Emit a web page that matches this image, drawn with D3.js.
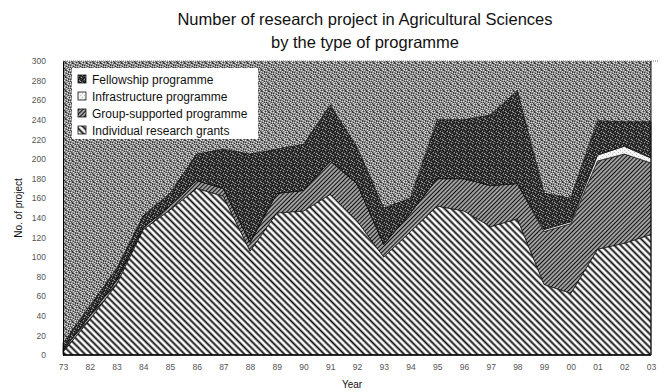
<!DOCTYPE html>
<html>
<head>
<meta charset="utf-8">
<script src="https://cdn.jsdelivr.net/npm/d3@7/dist/d3.min.js"></script>
<style>
  html, body { margin: 0; padding: 0; background: #fff; }
  svg { display: block; }
</style>
</head>
<body>
<svg id="chart" width="667" height="392"></svg>
<script>
// Year labels along the x axis
const years = ["73","82","83","84","85","86","87","88","89","90","91","92","93","94","95","96","97","98","99","00","01","02","03"];

// Number of projects per programme type
const individual     = [3, 36, 72, 128, 148, 170, 162, 106, 145, 147, 164, 137, 100, 126, 152, 147, 131, 139, 72, 63, 108, 114, 123];
const groupSupported = [2, 4, 4, 2, 4, 8, 8, 9, 20, 21, 34, 38, 13, 19, 28, 33, 42, 36, 54, 71, 90, 91, 73];
const infrastructure = [0, 0, 0, 0, 0, 0, 0, 0, 0, 0, 0, 0, 0, 0, 0, 0, 0, 0, 2, 2, 6, 8, 5];
const fellowship     = [7, 10, 12, 12, 13, 27, 40, 90, 45, 47, 57, 37, 37, 15, 60, 60, 72, 95, 37, 24, 35, 25, 37];

const yTicks = d3.range(0, 301, 20);

const seriesKeys = ["individual", "group", "infrastructure", "fellowship"];
const legendLabels = ["Fellowship programme", "Infrastructure programme", "Group-supported programme", "Individual research grants"];
const legendKeys = ["fellowship", "infrastructure", "group", "individual"];

const rows = years.map((y, i) => ({
  year: y,
  individual: individual[i],
  group: groupSupported[i],
  infrastructure: infrastructure[i],
  fellowship: fellowship[i]
}));

const svg = d3.select("#chart");
const margin = { left: 63, right: 16, top: 61, bottom: 37 };
const W = 667, H = 392;

const x = d3.scalePoint().domain(years).range([margin.left, W - margin.right]);
const y = d3.scaleLinear().domain([0, 300]).range([H - margin.bottom, margin.top]);

const defs = svg.append("defs");

// Speckled half-tone fills built from small pixel maps
function pixelPattern(id, base, map, colours) {
  const n = map.length;
  const p = defs.append("pattern").attr("id", id)
    .attr("patternUnits", "userSpaceOnUse").attr("width", n).attr("height", n);
  p.append("rect").attr("width", n).attr("height", n).attr("fill", base);
  map.forEach((row, r) => {
    row.split("").forEach((ch, c) => {
      if (colours[ch]) {
        p.append("rect").attr("x", c).attr("y", r).attr("width", 1).attr("height", 1)
          .attr("fill", colours[ch]).attr("shape-rendering", "crispEdges");
      }
    });
  });
}

pixelPattern("bgSpeckle", "#8c8c8c", [
  "w.dd.w.",
  "..w..d.",
  "d...wd.",
  ".w.d..w",
  "d..w.d.",
  "wd...w.",
  "..d.w.d"
], { w: "#dcdcdc", d: "#3a3a3a" });

pixelPattern("fellowSpeckle", "#3e3e3e", [
  "d.w..d.",
  "..d.w.d",
  "w...d..",
  ".d.w..d",
  "..d..d.",
  "d...d.w",
  ".w.d..."
], { w: "#a0a0a0", d: "#0c0c0c" });

pixelPattern("infraSpeckle", "#f4f4f4", [
  "..d.",
  "....",
  "d...",
  "...."
], { d: "#bbbbbb" });

// Diagonal hatching
function hatch(id, period, angle, width, bg, fg) {
  const p = defs.append("pattern").attr("id", id)
    .attr("patternUnits", "userSpaceOnUse")
    .attr("width", period).attr("height", period)
    .attr("patternTransform", `rotate(${angle})`);
  p.append("rect").attr("width", period).attr("height", period).attr("fill", bg);
  p.append("line").attr("x1", period / 2).attr("y1", 0).attr("x2", period / 2).attr("y2", period)
    .attr("stroke", fg).attr("stroke-width", width);
}
hatch("indivHatch", 4.7, -45, 1.9, "#ffffff", "#111");
hatch("groupHatch", 3.0, 45, 1.8, "#ffffff", "#111");

const fills = {
  individual: "url(#indivHatch)",
  group: "url(#groupHatch)",
  infrastructure: "url(#infraSpeckle)",
  fellowship: "url(#fellowSpeckle)"
};

// Plot background
svg.append("rect")
  .attr("x", margin.left).attr("y", y(300))
  .attr("width", x.range()[1] - margin.left).attr("height", y(0) - y(300))
  .attr("fill", "url(#bgSpeckle)");

// Stacked areas
const stacked = d3.stack().keys(seriesKeys)(rows);
const area = d3.area()
  .x(d => x(d.data.year))
  .y0(d => y(d[0]))
  .y1(d => y(d[1]));

svg.append("g").selectAll("path")
  .data(stacked)
  .join("path")
  .attr("d", area)
  .attr("fill", d => fills[d.key])
  .attr("stroke", "#111")
  .attr("stroke-width", 0.7);

// Top dotted gridline and right border
svg.append("line")
  .attr("x1", margin.left).attr("x2", W - 8)
  .attr("y1", y(300)).attr("y2", y(300))
  .attr("stroke", "#777").attr("stroke-width", 1).attr("stroke-dasharray", "1,1");
svg.append("line")
  .attr("x1", x.range()[1]).attr("x2", x.range()[1])
  .attr("y1", y(300)).attr("y2", y(0))
  .attr("stroke", "#111").attr("stroke-width", 1);

// Axes
const tickFont = "Liberation Sans, Arial, sans-serif";
const xAxis = svg.append("g")
  .attr("transform", `translate(0,${y(0)})`)
  .call(d3.axisBottom(x).tickSize(0).tickPadding(9));
xAxis.select(".domain").attr("stroke", "#000").attr("stroke-width", 1.5)
  .attr("d", `M${margin.left},0H${x.range()[1]}`);
xAxis.selectAll("text").attr("font-family", tickFont).attr("font-size", 8.5).attr("fill", "#555");

const yAxis = svg.append("g")
  .attr("transform", `translate(${margin.left},0)`)
  .call(d3.axisLeft(y).tickValues(yTicks).tickSize(0).tickPadding(17));
yAxis.select(".domain").attr("stroke", "#000").attr("stroke-width", 1);
yAxis.selectAll("text").attr("font-family", tickFont).attr("font-size", 8.5).attr("fill", "#555");

// Titles
const titleFont = "Liberation Sans, Arial, sans-serif";
svg.append("text").attr("x", 365).attr("y", 25).attr("text-anchor", "middle")
  .attr("font-family", titleFont).attr("font-size", 16.5).attr("fill", "#111")
  .text("Number of research project in Agricultural Sciences");
svg.append("text").attr("x", 365).attr("y", 48).attr("text-anchor", "middle")
  .attr("font-family", titleFont).attr("font-size", 16.5).attr("fill", "#111")
  .text("by the type of programme");

svg.append("text")
  .attr("transform", `translate(22,${(y(0) + y(300)) / 2}) rotate(-90)`)
  .attr("text-anchor", "middle")
  .attr("font-family", titleFont).attr("font-size", 10).attr("fill", "#111")
  .text("No. of project");
svg.append("text").attr("x", 352).attr("y", 388).attr("text-anchor", "middle")
  .attr("font-family", titleFont).attr("font-size", 10).attr("fill", "#111")
  .text("Year");

// Legend
const lg = svg.append("g").attr("transform", "translate(72,68)");
lg.append("rect").attr("width", 186).attr("height", 71).attr("fill", "#fff");
legendKeys.forEach((k, i) => {
  const row = lg.append("g").attr("transform", `translate(6,${6 + i * 17})`);
  row.append("rect").attr("width", 8).attr("height", 8).attr("y", 1)
    .attr("fill", fills[k]).attr("stroke", "#111").attr("stroke-width", 0.8);
  row.append("text").attr("x", 14).attr("y", 9.5)
    .attr("font-family", titleFont).attr("font-size", 12).attr("fill", "#111")
    .text(legendLabels[i]);
});
</script>
</body>
</html>
